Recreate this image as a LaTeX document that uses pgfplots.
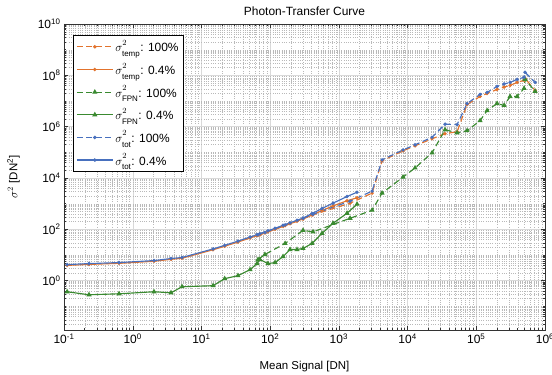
\documentclass[border=0pt]{standalone}
\usepackage{fontspec}
\setmainfont{Liberation Sans}
\usepackage{amsmath}
\usepackage{pgfplots}
\pgfplotsset{compat=1.18}
\definecolor{mo}{RGB}{226,115,45}
\definecolor{mg}{RGB}{58,138,48}
\definecolor{mb}{RGB}{72,112,190}
\newcommand{\sig}[1]{$\sigma^{\raisebox{2.2pt}{$\scriptstyle 2$}}_{\raisebox{-1.6pt}{$\scriptstyle\text{#1}$}}$}
\def\myminor{2e-2}
\foreach \k in {3,...,9}{\xdef\myminor{\myminor,\k e-2}}
\foreach \n in {-1,...,9}{\foreach \k in {1,...,9}{\xdef\myminor{\myminor,\k e\n}}}
\def\myminorx{1e-1}
\foreach \k in {2,...,9}{\xdef\myminorx{\myminorx,\k e-1}}
\foreach \n in {0,...,5}{\foreach \k in {2,...,9}{\xdef\myminorx{\myminorx,\k e\n}}}
\begin{document}
\begin{tikzpicture}
\useasboundingbox (-64bp,-45bp) rectangle (488bp,330bp);
\begin{axis}[
 at={(0,0)}, anchor=south west,
 scale only axis, width=481bp, height=306bp,
 xmode=log, ymode=log, log basis x=10, log basis y=10,
 xmin=0.1, xmax=1e6, ymin=1.2e-2, ymax=1e10,
 xtick={1e-1,1,10,100,1e3,1e4,1e5,1e6},
 ytick={1,1e2,1e4,1e6,1e8,1e10},
 minor ytick/.expanded=\myminor,
 minor xtick/.expanded=\myminorx,
 xticklabel={\pgfmathtruncatemacro\e{round(\tick)}10\textsuperscript{\e}},
 yticklabel={\pgfmathtruncatemacro\e{round(\tick)}10\textsuperscript{\e}},
 ticklabel style={font=\fontsize{12}{14}\selectfont},
 grid=both,
 major grid style={gray!30, line width=0.4pt},
 minor grid style={gray!55, line width=0.3pt, dotted},
 tick align=inside,
 major tick length=4bp, minor tick length=2bp,
 tick style={black!80, line width=0.4pt},
 axis line style={black!80, line width=0.5pt},
 title={Photon-Transfer Curve},
 title style={at={(axis description cs:0.5,1)}, anchor=south, yshift=-1bp, font=\fontsize{12}{14}\selectfont},
 xlabel={Mean Signal [DN]},
 xlabel style={at={(axis description cs:0.5,-0.121)}, anchor=center, font=\fontsize{11.5}{13}\selectfont},
 ylabel={$\sigma^2$ [DN\textsuperscript{2}]},
 ylabel style={at={(axis description cs:-0.105,0.5)}, anchor=center, font=\fontsize{11.5}{13}\selectfont},
 legend style={at={(axis description cs:0.0187,0.964)}, anchor=north west,
   font=\fontsize{12}{14}\selectfont, draw=black, line width=0.5pt, fill=white,
   row sep=5.5bp, inner sep=3bp},
 legend cell align=left,
 legend image code/.code={\draw[mark repeat=2,mark phase=2,#1] plot coordinates {(0bp,0bp)(18bp,0bp)(36bp,0bp)};},
 every axis plot/.append style={line width=1.15pt},
 dsh/.style={dash pattern=on 6bp off 3.5bp},
]
% temp 100%
\addplot[color=mo, dsh, mark=*, mark size=1.1pt, mark options={solid}] coordinates {
(66.7,59)(84,72)(165,140)(301,258)(421,370)(1456,1047)(3043,2580)(4254,4.64e4)(8600,1.15e5)(12860,1.8e5)(22730,3.38e5)(35150,5.3e5)(52540,6.37e5)(73470,7.3e6)(113600,1.5e7)(143600,1.97e7)(200900,2.82e7)(253900,3.5e7)(310500,4.05e7)(392600,5.3e7)(496400,6.4e7)(513000,7.6e7)(717800,2.58e7)};
\addlegendentry{\sig{temp}: 100\%}
% temp 0.4%
\addplot[color=mo, mark=*, mark size=1.1pt] coordinates {
(0.111,3.95)(0.231,4.3)(0.632,4.75)(2.04,5.7)(3.61,6.8)(5.22,7.5)(14.75,16)(21.8,22)(34,32)(51,46)(64.5,57)(71,62)(93,81)(118,101)(154,131)(195,165)(246,208)(301,255)(407,360)(569,540)(823,820)(1316,1300)(1840,1700)};
\addlegendentry{\sig{temp}: 0.4\%}
% FPN 100%
\addplot[color=mg, dsh, mark=triangle*, mark size=1.9pt, mark options={solid}] coordinates {
(66.7,6.7)(84,10.5)(165,28.2)(301,91)(421,80)(1456,270)(3043,556)(4254,2580)(8600,1.09e4)(12860,2.47e4)(22730,9.55e4)(35150,7.6e5)(52540,5.8e5)(73470,6.97e5)(113600,1.72e6)(143600,4.24e6)(200900,8e6)(253900,6.7e6)(310500,1.5e7)(392600,1.5e7)(496400,3.1e7)(513000,7e7)(717800,2.4e7)};
\addlegendentry{\sig{FPN}: 100\%}
% FPN 0.4%
\addplot[color=mg, mark=triangle*, mark size=1.9pt] coordinates {
(0.111,0.371)(0.231,0.283)(0.632,0.309)(2.04,0.371)(3.61,0.338)(5.22,0.582)(14.75,0.637)(21.8,1.2)(34,1.57)(51,2.7)(64.5,4.64)(71,6.7)(93,4.64)(118,5.08)(154,8.7)(195,16.4)(246,16.4)(301,18)(407,28.2)(569,69.7)(823,172)(1316,424)(1840,955)};
\addlegendentry{\sig{FPN}: 0.4\%}
% tot 100%
\addplot[color=mb, dsh, mark=*, mark size=1.1pt, mark options={solid}] coordinates {
(66.7,62)(84,76)(165,150)(301,270)(421,390)(1456,1250)(3043,3090)(4254,5.08e4)(8600,1.25e5)(12860,1.97e5)(22730,3.87e5)(35150,1.25e6)(52540,1.2e6)(73470,7.98e6)(113600,1.8e7)(143600,2.15e7)(200900,3.7e7)(253900,4.6e7)(310500,5.3e7)(392600,6.97e7)(496400,8.4e7)(513000,1.31e8)(717800,5.3e7)};
\addlegendentry{\sig{tot}: 100\%}
% tot 0.4%
\addplot[color=mb, mark=*, mark size=1.1pt] coordinates {
(0.111,4.24)(0.231,4.64)(0.632,5.08)(2.04,6.08)(3.61,7.3)(5.22,8.0)(14.75,17.3)(21.8,23.8)(34,34.8)(51,50)(64.5,62)(71,68)(93,88)(118,110)(154,143)(195,180)(246,226)(301,275)(407,410)(569,650)(823,1050)(1316,1900)(1840,2800)};
\addlegendentry{\sig{tot}: 0.4\%}
\end{axis}
\end{tikzpicture}
\end{document}
